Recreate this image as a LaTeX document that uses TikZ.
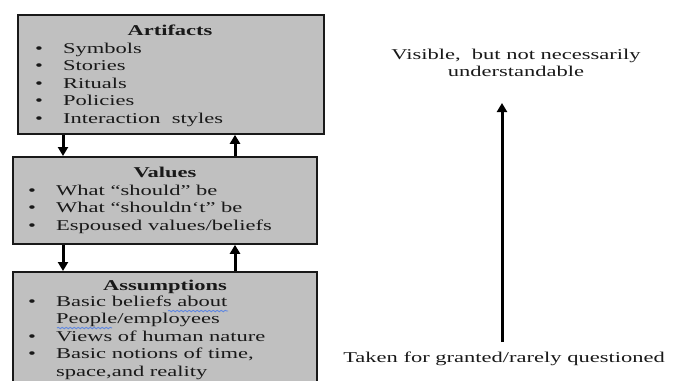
\documentclass[tikz,border=0pt]{standalone}
\usepackage{fontspec}
\setmainfont{Liberation Serif}[FakeStretch=1.5]
\usetikzlibrary{arrows.meta,decorations.pathmorphing}
\definecolor{layerGray}{RGB}{192,192,192}
\definecolor{inkGray}{RGB}{25,25,25}
\definecolor{spellBlue}{RGB}{95,135,225}
\newcommand{\bul}{\makebox[28pt][l]{\textbullet}}
\newcommand{\layerlist}[1]{\begin{tabular}[t]{@{}l@{}}#1\end{tabular}}

\begin{document}
\begin{tikzpicture}[x=1pt,y=-1pt,
  layer/.style={draw=inkGray,fill=layerGray,line width=1.8pt,anchor=north west,inner sep=0pt},
  head/.style={font=\fontsize{15}{17.5}\selectfont\bfseries,text=inkGray,anchor=base,inner sep=0pt},
  items/.style={font=\fontsize{15}{17.5}\selectfont,text=inkGray,anchor=base west,inner sep=0pt},
  note/.style={font=\fontsize{15}{17.5}\selectfont,text=inkGray,anchor=base,inner sep=0pt},
  flow/.style={draw=black,line width=3pt,-{Triangle[length=9pt,width=10pt]}},
  spell/.style={draw=spellBlue,line width=0.9pt,decorate,decoration={snake,amplitude=0.7pt,segment length=4pt}}]
\clip (0,0) rectangle (674,380);

\node[layer,minimum width=306pt,minimum height=119pt] (art) at (17,14) {};
\node[layer,minimum width=304pt,minimum height=87pt] (val) at (12,156) {};
\node[layer,minimum width=304pt,minimum height=130pt] (ass) at (12,271) {};

\node[head] (arthead) at (170,35) {Artifacts};
\node[items] (artlist) at (35,53) {\layerlist{\bul Symbols\\ \bul Stories\\ \bul Rituals\\ \bul Policies\\ \bul Interaction\ \ styles}};

\node[head] (valhead) at (165,177) {Values};
\node[items] (vallist) at (28,195) {\layerlist{\bul What ``should'' be\\ \bul What ``shouldn`t'' be\\ \bul Espoused values/beliefs}};

\node[head] (asshead) at (165,290) {Assumptions};
\node[items] (asslist) at (28,306) {\layerlist{\bul Basic beliefs about\\ \hspace{28pt}People/employees\\ \bul Views of human nature\\ \bul Basic notions of time,\\ \hspace{28pt}space,and reality}};
\draw[spell] (168,311) -- (228,311);
\draw[spell] (57,328) -- (112,328);

\coordinate (dn) at (63,0);
\coordinate (up) at (235,0);
\draw[flow] (art.south -| dn) -- (val.north -| dn);
\draw[flow] (val.north -| up) -- (art.south -| up);
\draw[flow] (val.south -| dn) -- (ass.north -| dn);
\draw[flow] (ass.north -| up) -- (val.south -| up);

\node[note] (visible) at (516,59) {\begin{tabular}[t]{@{}c@{}}Visible,\ \ but not necessarily\\ understandable\end{tabular}};
\node[note] (taken) at (504,362) {Taken for granted/rarely questioned};
\coordinate (deep) at (502,342);
\coordinate (surface) at (502,103);
\draw[flow] (deep) -- (surface);
\end{tikzpicture}
\end{document}
